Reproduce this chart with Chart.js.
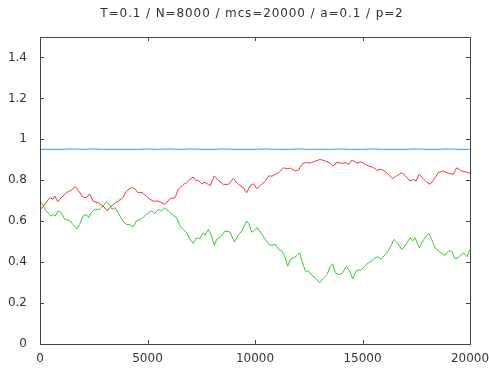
<!DOCTYPE html>
<html>
<head>
<meta charset="utf-8">
<script src="https://cdn.jsdelivr.net/npm/chart.js@4"></script>
<style>
  html, body { margin: 0; padding: 0; background: #fff; }
  #chart { display: block; }
</style>
</head>
<body>
<canvas id="chart" width="489" height="370"></canvas>
<script>
const titleText = 'T=0.1 / N=8000 / mcs=20000 / a=0.1 / p=2';
const xTicks = [0, 5000, 10000, 15000, 20000];
const yTicks = [0, 0.2, 0.4, 0.6, 0.8, 1, 1.2, 1.4];

const blueSteps = [0, 500, 1000, 1500, 2000, 2500, 3000, 3500, 4000, 4500, 5000, 5500, 6000, 6500, 7000, 7500, 8000, 8500, 9000, 9500, 10000,
  10500, 11000, 11500, 12000, 12500, 13000, 13500, 14000, 14500, 15000, 15500, 16000, 16500, 17000, 17500, 18000, 18500, 19000, 19500, 20000];
const blueValues = [0.951, 0.951, 0.951, 0.953, 0.951, 0.953, 0.951, 0.951, 0.951, 0.951, 0.953, 0.951, 0.953, 0.951, 0.953, 0.951, 0.951, 0.953, 0.951, 0.951, 0.951,
  0.953, 0.951, 0.951, 0.953, 0.951, 0.951, 0.951, 0.953, 0.951, 0.951, 0.953, 0.951, 0.951, 0.951, 0.953, 0.951, 0.951, 0.953, 0.951, 0.951];

const redSteps = [0, 218, 450, 605, 683, 837, 992, 1225, 1457, 1643, 1798, 2000, 2155, 2310, 2465, 2698, 2930, 3130, 3240, 3350,
  3628, 3860, 4015, 4247, 4400, 4558, 4744, 4945, 5116, 5270, 5503, 5658, 5814, 6046, 6279, 6433, 6665, 6822, 6977, 7130,
  7240, 7360, 7520, 7675, 7830, 7907, 8107, 8290, 8527, 8760, 8992, 9225, 9457, 9612, 9767, 9930, 10093, 10248, 10480, 10636,
  10790, 10945, 11100, 11334, 11490, 11643, 11875, 12030, 12186, 12340, 12573, 12806, 13037, 13270, 13500, 13613, 13814, 14046, 14200, 14357,
  14512, 14744, 14930, 15194, 15503, 15658, 15890, 16124, 16387, 16590, 16820, 16976, 17210, 17364, 17490, 17628, 17830, 17985, 18140, 18300,
  18527, 18760, 18992, 19225, 19380, 19612, 19845, 20000];
const redValues = [0.655, 0.682, 0.715, 0.707, 0.723, 0.695, 0.715, 0.739, 0.752, 0.769, 0.747, 0.718, 0.715, 0.734, 0.698, 0.690, 0.674, 0.650, 0.666, 0.677,
  0.698, 0.715, 0.747, 0.764, 0.760, 0.739, 0.740, 0.723, 0.707, 0.698, 0.698, 0.690, 0.682, 0.710, 0.715, 0.755, 0.780, 0.788, 0.804, 0.816,
  0.800, 0.800, 0.783, 0.790, 0.780, 0.772, 0.821, 0.800, 0.780, 0.780, 0.808, 0.780, 0.764, 0.739, 0.772, 0.783, 0.759, 0.775, 0.796, 0.821,
  0.820, 0.829, 0.836, 0.861, 0.856, 0.860, 0.845, 0.850, 0.878, 0.887, 0.884, 0.894, 0.902, 0.894, 0.883, 0.869, 0.887, 0.883, 0.887, 0.878,
  0.899, 0.884, 0.890, 0.873, 0.862, 0.850, 0.853, 0.837, 0.808, 0.821, 0.837, 0.824, 0.796, 0.804, 0.796, 0.829, 0.808, 0.791, 0.780, 0.800,
  0.837, 0.845, 0.834, 0.829, 0.861, 0.845, 0.840, 0.834];

const greenSteps = [0, 93, 218, 372, 496, 605, 713, 837, 992, 1148, 1380, 1535, 1721, 1845, 2000, 2155, 2263, 2387, 2542, 2775,
  2930, 3085, 3240, 3350, 3504, 3628, 3860, 4015, 4170, 4325, 4480, 4636, 4790, 4940, 5039, 5193, 5348, 5503, 5658, 5783,
  5968, 6201, 6356, 6511, 6665, 6822, 6977, 7130, 7285, 7440, 7595, 7675, 7830, 7985, 8107, 8215, 8372, 8605, 8838, 9040,
  9225, 9380, 9612, 9721, 9845, 9930, 10093, 10325, 10480, 10636, 10790, 10945, 11100, 11256, 11410, 11520, 11643, 11800, 11953, 12077,
  12186, 12340, 12496, 12651, 12806, 13008, 13192, 13347, 13504, 13613, 13735, 13892, 14046, 14247, 14390, 14543, 14698, 14853, 14930, 15040,
  15270, 15426, 15580, 15736, 15845, 16000, 16201, 16356, 16465, 16620, 16822, 16977, 17210, 17333, 17443, 17643, 17830, 17985, 18093, 18217,
  18372, 18605, 18838, 18992, 19147, 19303, 19457, 19690, 19876, 19969, 20000];
const greenValues = [0.685, 0.690, 0.661, 0.641, 0.625, 0.633, 0.625, 0.650, 0.641, 0.609, 0.603, 0.584, 0.563, 0.584, 0.625, 0.633, 0.617, 0.641, 0.658, 0.658,
  0.674, 0.694, 0.682, 0.658, 0.666, 0.641, 0.601, 0.584, 0.584, 0.571, 0.601, 0.606, 0.617, 0.633, 0.641, 0.650, 0.638, 0.658, 0.650, 0.666,
  0.650, 0.628, 0.617, 0.576, 0.560, 0.544, 0.511, 0.491, 0.519, 0.515, 0.544, 0.531, 0.560, 0.527, 0.482, 0.511, 0.519, 0.552, 0.547, 0.498,
  0.531, 0.552, 0.601, 0.584, 0.547, 0.550, 0.568, 0.536, 0.511, 0.487, 0.482, 0.487, 0.462, 0.454, 0.421, 0.380, 0.413, 0.421, 0.433, 0.446,
  0.405, 0.356, 0.356, 0.335, 0.323, 0.299, 0.323, 0.339, 0.380, 0.392, 0.348, 0.339, 0.343, 0.380, 0.360, 0.319, 0.356, 0.364, 0.360, 0.372,
  0.397, 0.405, 0.421, 0.426, 0.413, 0.430, 0.454, 0.487, 0.511, 0.495, 0.462, 0.479, 0.519, 0.503, 0.519, 0.470, 0.507, 0.531, 0.540, 0.511,
  0.470, 0.449, 0.433, 0.454, 0.454, 0.417, 0.421, 0.446, 0.426, 0.459, 0.455];

const toPoints = (xs, ys) => xs.map((x, i) => ({ x: x, y: ys[i] }));

// gnuplot style frame with inward ticks on all four sides, plus the title
const framePlugin = {
  id: 'frame',
  afterDatasetsDraw(chart) {
    const { ctx, chartArea: a, scales } = chart;
    const len = 4;
    ctx.save();
    ctx.strokeStyle = '#444';
    ctx.lineWidth = 1;
    ctx.beginPath();
    xTicks.forEach(v => {
      const px = Math.round(scales.x.getPixelForValue(v)) + 0.5;
      ctx.moveTo(px, a.bottom); ctx.lineTo(px, a.bottom - len);
      ctx.moveTo(px, a.top); ctx.lineTo(px, a.top + len);
    });
    yTicks.forEach(v => {
      const py = Math.round(scales.y.getPixelForValue(v)) + 0.5;
      ctx.moveTo(a.left, py); ctx.lineTo(a.left + len, py);
      ctx.moveTo(a.right, py); ctx.lineTo(a.right - len, py);
    });
    ctx.stroke();
    ctx.strokeRect(Math.round(a.left) + 0.5, Math.round(a.top) + 0.5,
      Math.round(a.right - a.left), Math.round(a.bottom - a.top));

    ctx.fillStyle = '#333';
    ctx.font = '12px "DejaVu Sans"';
    ctx.letterSpacing = '0.9px';
    ctx.textAlign = 'center';
    ctx.textBaseline = 'middle';
    ctx.fillText(titleText, 252, 14);
    ctx.restore();
  }
};

new Chart(document.getElementById('chart').getContext('2d'), {
  type: 'line',
  data: {
    datasets: [
      { label: 'blue', data: toPoints(blueSteps, blueValues), borderColor: '#3399ff', borderWidth: 1, pointRadius: 0, tension: 0 },
      { label: 'red', data: toPoints(redSteps, redValues), borderColor: '#ff3333', borderWidth: 1, pointRadius: 0, tension: 0 },
      { label: 'green', data: toPoints(greenSteps, greenValues), borderColor: '#33cc33', borderWidth: 1, pointRadius: 0, tension: 0 }
    ]
  },
  options: {
    responsive: false,
    animation: false,
    layout: { padding: { left: 0, right: 19, top: 37, bottom: 0 } },
    plugins: {
      legend: { display: false },
      tooltip: { enabled: false },
      title: { display: false }
    },
    scales: {
      x: {
        type: 'linear',
        min: 0,
        max: 20000,
        afterBuildTicks: s => { s.ticks = xTicks.map(v => ({ value: v })); },
        afterFit: s => { s.height = 26; s.paddingLeft = 0; s.paddingRight = 0; },
        grid: { display: false, drawTicks: false },
        border: { display: false },
        ticks: {
          color: '#333',
          padding: 8,
          maxRotation: 0,
          font: { family: 'DejaVu Sans', size: 12 },
          callback: v => String(v)
        }
      },
      y: {
        type: 'linear',
        min: 0,
        max: 1.5,
        afterBuildTicks: s => { s.ticks = yTicks.map(v => ({ value: v })); },
        afterFit: s => { s.width = 40; s.paddingTop = 0; s.paddingBottom = 0; },
        grid: { display: false, drawTicks: false },
        border: { display: false },
        ticks: {
          color: '#333',
          padding: 13,
          font: { family: 'DejaVu Sans', size: 12 },
          callback: v => String(Math.round(v * 10) / 10)
        }
      }
    }
  },
  plugins: [framePlugin]
});
</script>
</body>
</html>
